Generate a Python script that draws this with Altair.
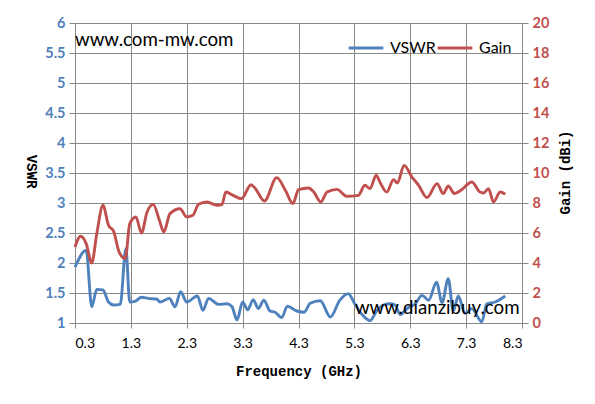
import altair as alt
import pandas as pd

# ---- data ----
vswr_freq = [0.30, 0.50, 0.60, 0.69, 0.80, 0.90, 0.99, 1.11, 1.21, 1.28, 1.37, 1.49, 1.61,
             1.76, 1.82, 1.99, 2.09, 2.19, 2.30, 2.49, 2.59, 2.69, 2.87, 3.02, 3.11, 3.20,
             3.30, 3.39, 3.49, 3.58, 3.68, 3.79, 3.88, 4.00, 4.10, 4.27, 4.40, 4.51, 4.69,
             4.87, 5.04, 5.19, 5.30, 5.43, 5.58, 5.70, 5.82, 5.94, 6.03, 6.12, 6.24, 6.39,
             6.51, 6.63, 6.77, 6.87, 6.98, 7.07, 7.16, 7.28, 7.40, 7.58, 7.67, 7.82, 8.00]
vswr_vals = [1.93, 2.21, 1.27, 1.56, 1.55, 1.35, 1.30, 1.31, 2.24, 1.35, 1.36, 1.43, 1.41,
             1.40, 1.35, 1.41, 1.27, 1.52, 1.35, 1.45, 1.21, 1.41, 1.31, 1.32, 1.27, 1.05,
             1.35, 1.22, 1.39, 1.24, 1.38, 1.20, 1.18, 1.09, 1.28, 1.20, 1.18, 1.33, 1.37,
             1.10, 1.38, 1.49, 1.33, 1.15, 1.04, 1.20, 1.30, 1.32, 1.30, 1.14, 1.24, 1.32,
             1.46, 1.38, 1.68, 1.34, 1.74, 1.20, 1.45, 1.16, 1.24, 1.02, 1.32, 1.35, 1.45]

gain_freq = [0.30, 0.40, 0.50, 0.60, 0.69, 0.80, 0.90, 0.99, 1.09, 1.20, 1.28, 1.39, 1.49,
             1.59, 1.70, 1.81, 1.89, 2.00, 2.18, 2.30, 2.41, 2.51, 2.66, 2.84, 2.93, 3.00,
             3.13, 3.28, 3.45, 3.52, 3.69, 3.91, 4.06, 4.20, 4.30, 4.48, 4.57, 4.70, 4.81,
             4.99, 5.16, 5.37, 5.49, 5.58, 5.69, 5.77, 5.88, 6.00, 6.07, 6.19, 6.33, 6.45,
             6.60, 6.78, 6.89, 6.98, 7.09, 7.22, 7.40, 7.55, 7.61, 7.70, 7.79, 7.91, 8.00]
gain_vals = [5.07, 5.78, 5.29, 4.00, 5.96, 7.85, 6.51, 6.13, 4.73, 4.29, 6.62, 7.07, 6.00,
             7.40, 7.91, 6.85, 6.07, 7.29, 7.62, 7.07, 7.18, 7.91, 8.07, 7.85, 7.90, 8.73,
             8.51, 8.29, 9.22, 9.00, 8.13, 9.69, 8.89, 7.96, 8.89, 9.00, 8.75, 8.07, 8.73,
             8.91, 8.45, 8.51, 9.18, 8.96, 9.85, 9.30, 8.73, 9.56, 9.33, 10.51, 9.73, 9.18,
             8.36, 9.29, 8.63, 9.13, 8.63, 8.89, 9.40, 8.73, 8.67, 8.96, 8.07, 8.73, 8.58]

x_ticks = [0.3, 1.3, 2.3, 3.3, 4.3, 5.3, 6.3, 7.3, 8.3]
vswr_ticks = [1, 1.5, 2, 2.5, 3, 3.5, 4, 4.5, 5, 5.5, 6]
gain_ticks = [0, 2, 4, 6, 8, 10, 12, 14, 16, 18, 20]

series_names = ["VSWR", "Gain"]
series_colors = ["#4F81BD", "#C0504D"]

ann_label = ["www.com-mw.com", "www.dianzibuy.com"]
ann_freq = [0.3, 5.31]
ann_vswr = [5.71, 1.245]

vswr_df = pd.DataFrame({"freq": vswr_freq, "VSWR": vswr_vals, "series": "VSWR"})
gain_df = pd.DataFrame({"freq": gain_freq, "Gain": gain_vals, "series": "Gain"})
ann_df = pd.DataFrame({"freq": ann_freq, "VSWR": ann_vswr, "label": ann_label})

GRID = "#888888"

x_enc = alt.X(
    "freq:Q",
    scale=alt.Scale(domain=[0.3, 8.3], nice=False, zero=False),
    axis=alt.Axis(
        values=x_ticks, format=".1f", title="Frequency (GHz)",
        labelFont="Lato", labelFontSize=14, labelColor="black",
        tickSize=5, labelPadding=8,
        titleFont="Liberation Mono", titleFontSize=14, titleFontWeight="bold",
        titleColor="black", titleY=48, titleBaseline="middle",
        grid=True,
    ),
)

y_vswr = alt.Y(
    "VSWR:Q",
    scale=alt.Scale(domain=[1, 6], nice=False, zero=False),
    axis=alt.Axis(
        values=vswr_ticks, format="~g", title="VSWR", orient="left",
        labelFont="Lato", labelFontSize=14.5, labelFontWeight="bold",
        labelColor="#4F81BD", tickSize=6, labelPadding=4,
        titleFont="Liberation Mono", titleFontSize=14, titleFontWeight="bold",
        titleColor="black", titleAngle=90, titleX=-45, titleY=148,
        titleAlign="center", titleBaseline="middle",
        grid=True,
    ),
)

color_enc = alt.Color(
    "series:N",
    scale=alt.Scale(domain=series_names, range=series_colors),
    legend=alt.Legend(
        title=None, orient="none", legendX=272, legendY=6, direction="horizontal",
        symbolType="stroke", symbolSize=1200, symbolStrokeWidth=3,
        labelFont="Lato", labelFontSize=16, labelColor="black",
        labelOffset=5, columnPadding=-5, padding=0,
    ),
)

vswr_line = alt.Chart(vswr_df).mark_line(
    interpolate="monotone", strokeWidth=2.9
).encode(x=x_enc, y=y_vswr, color=color_enc)

ann = alt.Chart(ann_df).mark_text(
    align="left", baseline="middle", font="Lato", fontSize=18.7, color="black"
).encode(x=x_enc, y=y_vswr, text="label:N")

left = alt.layer(vswr_line, ann)

gain_line = alt.Chart(gain_df).mark_line(
    interpolate="monotone", strokeWidth=2.9
).encode(
    x=x_enc,
    y=alt.Y(
        "Gain:Q",
        scale=alt.Scale(domain=[0, 20], nice=False, zero=False),
        axis=alt.Axis(
            values=gain_ticks, title="Gain (dBi)", orient="right",
            labelFont="Lato", labelFontSize=14.5, labelFontWeight="bold",
            labelColor="#C0504D", tickSize=6, labelPadding=4,
            titleFont="Liberation Mono", titleFontSize=14, titleFontWeight="bold",
            titleColor="black", titleAngle=270, titleX=43, titleY=149,
            titleAlign="center", titleBaseline="middle",
            grid=False,
        ),
    ),
    color=color_enc,
)

chart = alt.layer(left, gain_line).resolve_scale(y="independent").properties(
    width=447, height=300,
    autosize=alt.AutoSizeParams(type="none"),
    padding={"left": 67, "top": 15, "right": 60, "bottom": 60},
    background="white",
).configure_axis(
    gridColor=GRID, domainColor=GRID, tickColor=GRID, gridWidth=1, domainWidth=1,
).configure_view(stroke=GRID)

chart.save("out.html", embed_options={"renderer": "svg", "actions": False})
